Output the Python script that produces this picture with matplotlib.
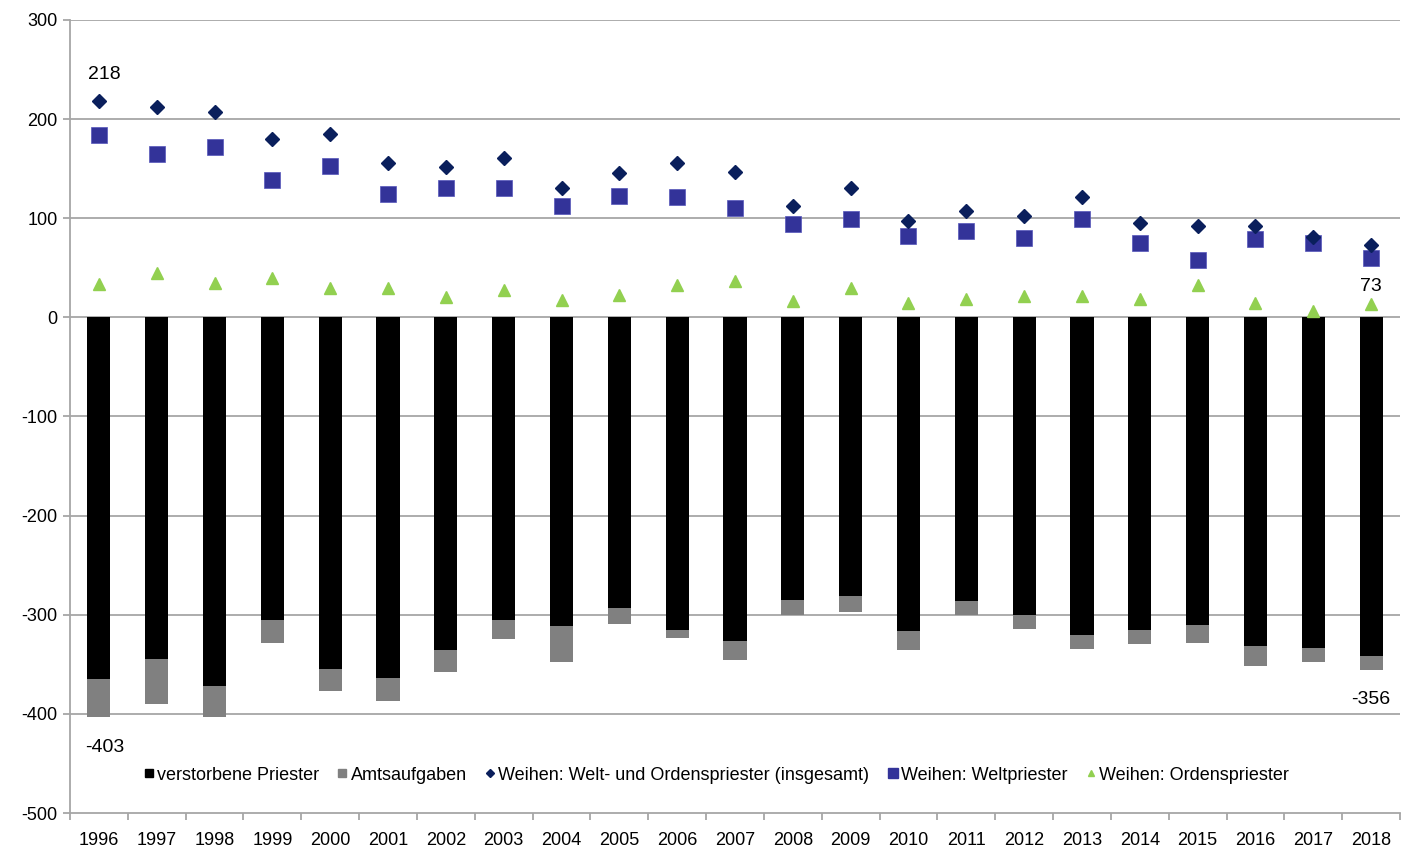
import matplotlib
matplotlib.use("Agg")
import matplotlib.pyplot as plt
from matplotlib.lines import Line2D
from matplotlib.ticker import FixedLocator
import numpy as np

plt.rcParams['font.family'] = ['Liberation Sans', 'DejaVu Sans']
plt.rcParams['axes.unicode_minus'] = False

years = [str(y) for y in range(1996, 2019)]
verstorbene = [365, 345, 372, 305, 355, 364, 336, 305, 311, 293, 315, 326,
               285, 281, 316, 286, 300, 320, 315, 310, 332, 334, 342]
amtsaufgaben = [38, 45, 31, 23, 22, 23, 22, 19, 37, 16, 8, 20,
                15, 16, 20, 14, 14, 15, 15, 18, 20, 14, 14]
weihen_gesamt = [218, 212, 207, 180, 185, 156, 152, 161, 131, 146, 156, 147,
                 112, 131, 97, 107, 102, 121, 95, 92, 92, 81, 73]
weihen_welt = [184, 165, 172, 139, 153, 124, 131, 131, 112, 122, 121, 110,
               94, 99, 82, 87, 80, 99, 75, 58, 79, 75, 60]
weihen_orden = [34, 45, 35, 40, 30, 30, 21, 28, 18, 23, 33, 37,
                17, 30, 15, 19, 22, 22, 19, 33, 14, 6, 13]
labels_legend = ["verstorbene Priester", "Amtsaufgaben",
                 "Weihen: Welt- und Ordenspriester (insgesamt)",
                 "Weihen: Weltpriester", "Weihen: Ordenspriester"]

x = np.arange(len(years))
neg_v = -np.array(verstorbene)
neg_a = -np.array(amtsaufgaben)

fig = plt.figure(figsize=(14.02, 8.5), dpi=100)
ax = fig.add_axes([70/1402, 1-813/850, 1330/1402, 793/850])

grid_c = '#a6a6a6'
ax.set_ylim(-500, 300)
ax.set_xlim(-0.5, len(years)-0.5)
ax.set_yticks(range(-500, 301, 100))
for yv in range(-400, 301, 100):
    ax.axhline(yv, color=grid_c, lw=1.3, zorder=0)

ax.bar(x, neg_v, width=0.4, color='black', zorder=2)
ax.bar(x, neg_a, bottom=neg_v, width=0.4, color='#808080', zorder=2)

ax.plot(x, weihen_gesamt, linestyle='none', marker='D', markersize=7.5,
        color='#0a1f5c', zorder=4)
ax.plot(x, weihen_welt, linestyle='none', marker='s', markersize=11.5,
        color='#333399', markeredgecolor='#5555bb', markeredgewidth=0.5, zorder=3)
ax.plot(x, weihen_orden, linestyle='none', marker='^', markersize=9,
        color='#92d050', zorder=3)

for s in ['top', 'right']:
    ax.spines[s].set_visible(False)
for s in ['left', 'bottom']:
    ax.spines[s].set_color(grid_c)
    ax.spines[s].set_linewidth(1.3)

ax.tick_params(axis='y', length=5, width=1.3, color=grid_c, labelsize=13,
               pad=4)
ax.set_xticks(x)
ax.set_xticklabels(years)
ax.tick_params(axis='x', which='major', length=0, labelsize=13, pad=14)
ax.xaxis.set_minor_locator(FixedLocator(np.arange(-0.5, len(years), 1.0)))
ax.tick_params(axis='x', which='minor', length=5, width=1.3, color=grid_c)

# data labels
ax.annotate(str(weihen_gesamt[0]), (x[0], weihen_gesamt[0]), xytext=(4, 19),
            textcoords='offset points', ha='center', va='center', fontsize=14)
ax.annotate(str(weihen_gesamt[-1]), (x[-1], weihen_gesamt[-1]), xytext=(0, -30),
            textcoords='offset points', ha='center', va='center', fontsize=14)
tot0 = neg_v[0] + neg_a[0]
totl = neg_v[-1] + neg_a[-1]
ax.annotate(str(tot0), (x[0], tot0), xytext=(4, -22),
            textcoords='offset points', ha='center', va='center', fontsize=14)
ax.annotate(str(totl), (x[-1], totl), xytext=(0, -21),
            textcoords='offset points', ha='center', va='center', fontsize=14)

handles = [
    Line2D([], [], linestyle='none', marker='s', markersize=6, color='black'),
    Line2D([], [], linestyle='none', marker='s', markersize=6, color='#808080'),
    Line2D([], [], linestyle='none', marker='D', markersize=4, color='#0a1f5c'),
    Line2D([], [], linestyle='none', marker='s', markersize=7, color='#333399'),
    Line2D([], [], linestyle='none', marker='^', markersize=4, color='#92d050'),
]
fig.legend(handles, labels_legend, loc='center', ncol=5,
           bbox_to_anchor=(716/1402, 1-775/850), frameon=False, fontsize=13,
           handlelength=0.6, handletextpad=0.15, columnspacing=1.0,
           borderpad=0)

fig.savefig('out.png', dpi=100)
